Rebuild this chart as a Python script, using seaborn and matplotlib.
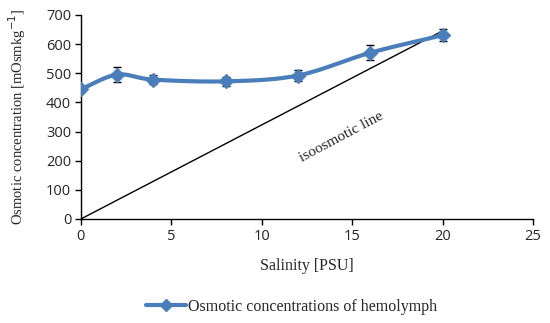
import numpy as np
import pandas as pd
import matplotlib
matplotlib.use("Agg")
import matplotlib.pyplot as plt
import seaborn as sns
from matplotlib.lines import Line2D

# Messwerte
salinity = [0, 2, 4, 8, 12, 16, 20]
osmo = [445, 495, 478, 472, 492, 570, 630]
osmo_err = [8, 25, 15, 15, 20, 25, 20]
iso_x = [0, 20]
iso_y = [0, 645]

blue = "#4a7ebb"


def catmull_rom(x, y, n=30):
    # Glatte Linie wie in Excel (nur Darstellung)
    x = np.asarray(x, float)
    y = np.asarray(y, float)
    px = np.concatenate([[2 * x[0] - x[1]], x, [2 * x[-1] - x[-2]]])
    py = np.concatenate([[2 * y[0] - y[1]], y, [2 * y[-1] - y[-2]]])
    xs, ys = [], []
    t = np.linspace(0, 1, n)
    for i in range(1, len(px) - 2):
        for p, out in ((px, xs), (py, ys)):
            p0, p1, p2, p3 = p[i - 1], p[i], p[i + 1], p[i + 2]
            out.append(0.5 * (2 * p1 + (-p0 + p2) * t
                              + (2 * p0 - 5 * p1 + 4 * p2 - p3) * t ** 2
                              + (-p0 + 3 * p1 - 3 * p2 + p3) * t ** 3))
    return np.concatenate(xs), np.concatenate(ys)


sns.set_style("white")
plt.rcParams['font.family'] = ['Open Sans', 'DejaVu Sans']

fig = plt.figure(figsize=(5.5, 3.23), dpi=100)
ax = fig.add_axes([0.147, 0.322, 0.822, 0.632])

sx, sy = catmull_rom(salinity, osmo)
smooth = pd.DataFrame({"x": sx, "y": sy})
iso = pd.DataFrame({"x": iso_x, "y": iso_y})

sns.lineplot(data=iso, x="x", y="y", ax=ax, color="black", lw=1, sort=False)
sns.lineplot(data=smooth, x="x", y="y", ax=ax, color=blue, lw=3, sort=False)
ax.errorbar(salinity, osmo, yerr=osmo_err, fmt="none", ecolor="black",
            elinewidth=1, capsize=3, capthick=1, zorder=4)
sns.scatterplot(x=salinity, y=osmo, ax=ax, marker="D", s=55, color=blue,
                edgecolor=blue, zorder=5)

ax.text(14.4, 281, "isoosmotic line", rotation=28, ha="center", va="center",
        fontsize=11, family="Liberation Serif")

ax.set_xlim(0, 25)
ax.set_ylim(0, 700)
ax.set_xticks(range(0, 26, 5))
ax.set_yticks(range(0, 701, 100))
ax.tick_params(axis="both", labelsize=10.5, length=4, width=1, direction="out",
               bottom=True, left=True, color="black", pad=3)
for s in ["top", "right"]:
    ax.spines[s].set_visible(False)
for s in ["left", "bottom"]:
    ax.spines[s].set_color("black")
    ax.spines[s].set_linewidth(1)

ax.set_xlabel("Salinity [PSU]", fontsize=11.5, family="Liberation Serif", labelpad=10)
ax.set_ylabel("Osmotic concentration [mOsmkg$^{-1}$]", fontsize=10.5,
              family="Liberation Serif", labelpad=13)

handle = Line2D([], [], color=blue, lw=3, marker="D", markersize=6)
fig.legend([handle], ["Osmotic concentrations of hemolymph"], loc="center",
           bbox_to_anchor=(0.53, 0.05), frameon=False,
           prop={"family": "Liberation Serif", "size": 11.5}, handlelength=2.5,
           handletextpad=0.1)

fig.savefig("out.png", dpi=100)
